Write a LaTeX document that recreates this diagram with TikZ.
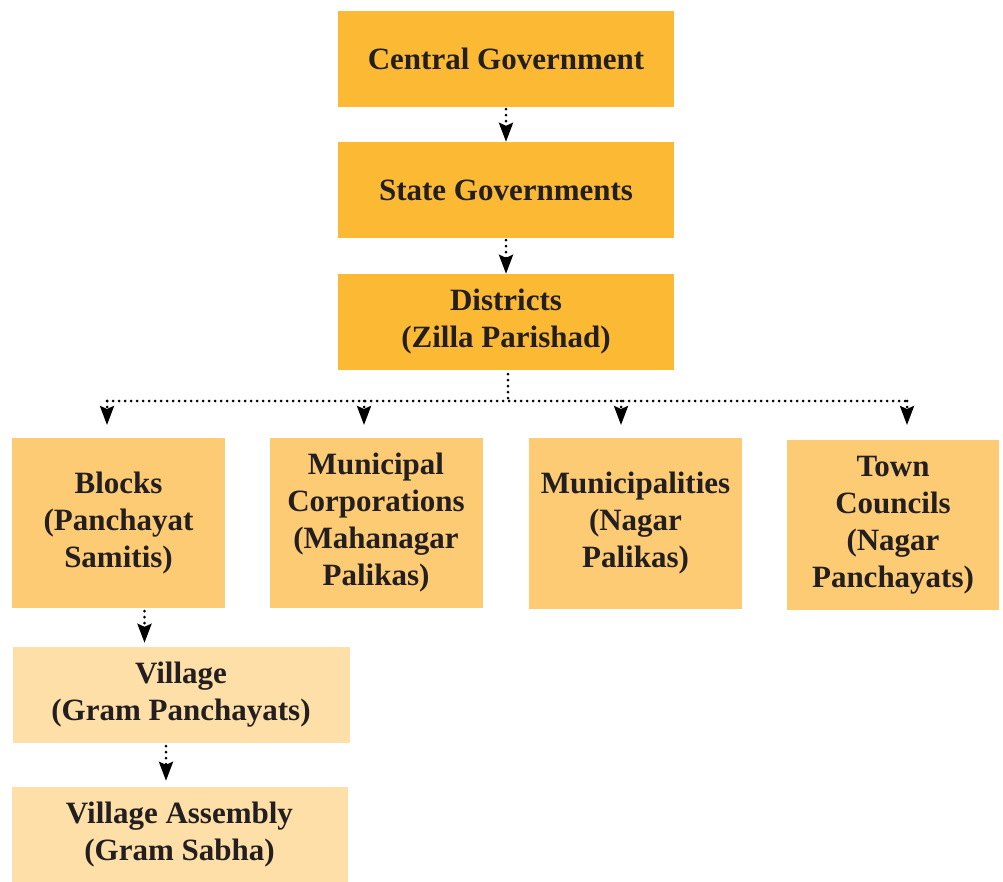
\documentclass[tikz,border=0pt]{standalone}
\usepackage{fontspec}
\setmainfont{Liberation Serif}
\usepackage{tikz}
\usetikzlibrary{arrows.meta}
\definecolor{govtop}{HTML}{FBB934}
\definecolor{govmid}{HTML}{FDCB74}
\definecolor{govlow}{HTML}{FDDFA7}
\definecolor{govtext}{HTML}{231F20}

\begin{document}
\begin{tikzpicture}[x=1pt,y=-1pt]
\useasboundingbox (0,0) rectangle (1003,882);
\begin{scope}[every node/.style={rectangle,inner sep=0pt,align=center,text=govtext,
      font=\fontsize{31}{37}\selectfont\bfseries}]
    \node[fill=govtop,minimum width=336pt,minimum height=96pt] (central) at (506,59) {Central Government};
    \node[fill=govtop,minimum width=336pt,minimum height=96pt] (state) at (506,190) {State Governments};
    \node[fill=govtop,minimum width=336pt,minimum height=96pt] (dist) at (506,322) {Districts\\(Zilla Parishad)};
    \node[fill=govmid,minimum width=213pt,minimum height=170pt] (blocks) at (118.5,523) {Blocks\\(Panchayat\\Samitis)};
    \node[fill=govmid,minimum width=213pt,minimum height=170pt] (mcorp) at (376,523) {Municipal\\Corporations\\(Mahanagar\\Palikas)};
    \node[fill=govmid,minimum width=213pt,minimum height=171pt] (mun) at (635.5,523.5) {Municipalities\\(Nagar\\Palikas)};
    \node[fill=govmid,minimum width=212pt,minimum height=170pt] (town) at (893,525) {Town\\Councils\\(Nagar\\Panchayats)};
    \node[fill=govlow,minimum width=337pt,minimum height=96pt] (village) at (181,695) {Village\\(Gram Panchayats)};
    \node[fill=govlow,minimum width=336pt,minimum height=95pt] (assembly) at (179.5,834.5) {Village Assembly\\(Gram Sabha)};
\end{scope}

% the bus under the districts
\coordinate (L) at (107,401);
\coordinate (R) at (907,401);
\coordinate (b2) at (364,401);
\coordinate (b3) at (621,401);
\coordinate (t1) at (107,425);
\coordinate (t2) at (364,425);
\coordinate (t3) at (621,425);
\coordinate (t4) at (907,425);

\begin{scope}[>={Stealth[black,length=19pt,width=14pt,inset=3pt]},
              every edge/.style={draw=black,line width=3pt,line cap=round,
                                 dash pattern=on 0pt off 6pt}]
    \path [->] (central) edge[shorten <=2pt] (state);
    \path [->] (state) edge[shorten <=2pt] (dist);
    \path [-] ([xshift=2pt,yshift=-4pt]dist.south) edge ([xshift=2pt]dist.south |- L);
    \path [-] (L) edge (R);
    \path [->] (L) edge (t1);
    \path [->] (b2) edge (t2);
    \path [->] (b3) edge (t3);
    \path [->] (R) edge (t4);
    \path [->] ([xshift=26pt,yshift=-3pt]blocks.south) edge[shorten >=4pt] ([xshift=26pt]blocks.south |- village.north);
    \path [->] ([xshift=-15pt,yshift=-3pt]village.south) edge[shorten >=6pt] ([xshift=-15pt]village.south |- assembly.north);
\end{scope}
\end{tikzpicture}
\end{document}
